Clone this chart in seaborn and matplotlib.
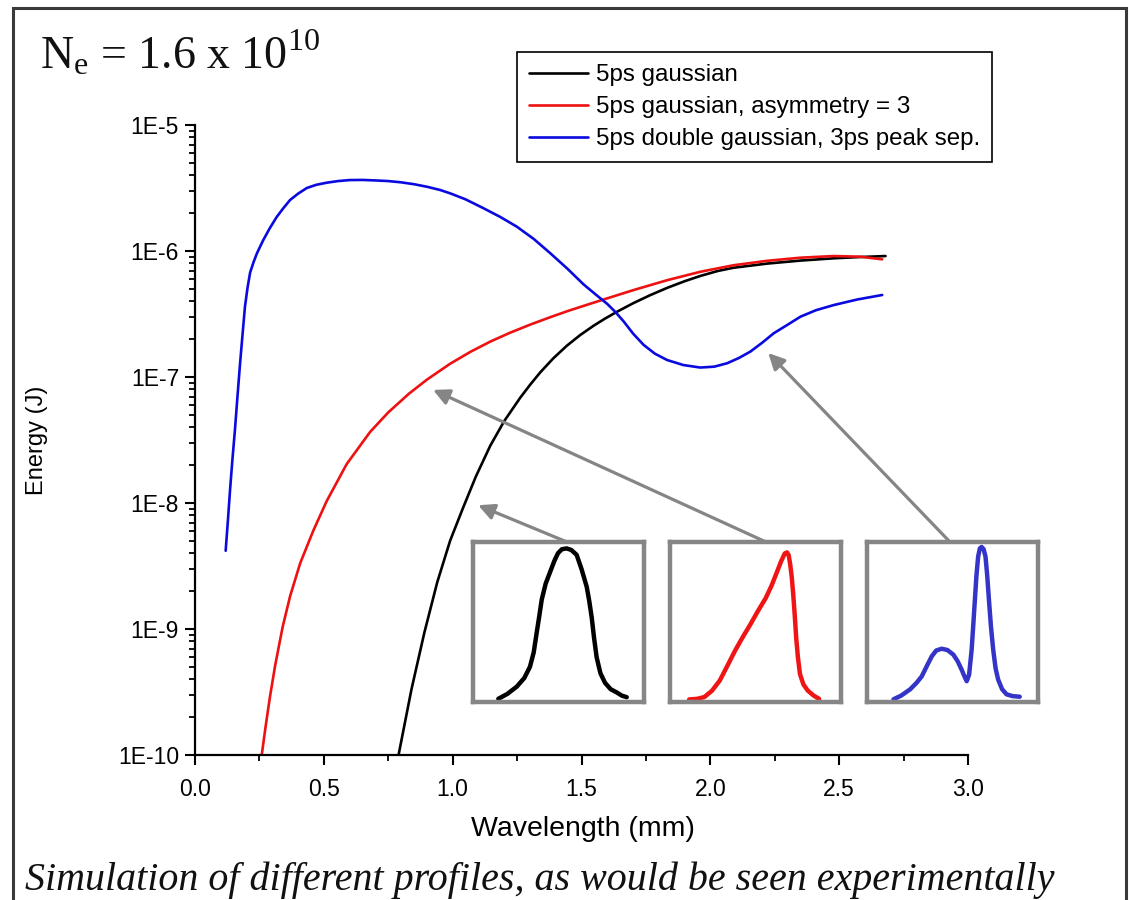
import numpy as np
import pandas as pd
import matplotlib
matplotlib.use("Agg")
import matplotlib.pyplot as plt
import seaborn as sns
from matplotlib.ticker import MultipleLocator, LogLocator, FuncFormatter, NullFormatter
from matplotlib.patches import Rectangle

# ---- spectra: wavelength (mm) vs log10 of radiated energy (J) ----
gauss_wl = [0.79, 0.84, 0.89, 0.94, 0.99, 1.04, 1.09, 1.146, 1.20, 1.262,
            1.30, 1.34, 1.39, 1.443, 1.495, 1.547, 1.59, 1.638, 1.70, 1.767,
            1.832, 1.90, 1.961, 2.03, 2.09, 2.22, 2.35, 2.479, 2.58, 2.68]
gauss_logE = [-10.0, -9.48, -9.03, -8.63, -8.30, -8.04, -7.79, -7.545, -7.35, -7.165,
              -7.063, -6.963, -6.853, -6.752, -6.667, -6.593, -6.538, -6.482, -6.415, -6.35,
              -6.293, -6.24, -6.198, -6.158, -6.133, -6.10, -6.076, -6.058, -6.048, -6.04]

asym_wl = [0.259, 0.275, 0.291, 0.311, 0.34, 0.369, 0.408, 0.459, 0.511, 0.589,
           0.68, 0.75, 0.83, 0.90, 0.99, 1.07, 1.146, 1.22, 1.30, 1.375,
           1.45, 1.573, 1.702, 1.832, 1.961, 2.09, 2.22, 2.35, 2.479, 2.58,
           2.667]
asym_logE = [-10.0, -9.76, -9.537, -9.29, -8.985, -8.74, -8.479, -8.22, -7.985, -7.69,
             -7.435, -7.281, -7.133, -7.021, -6.895, -6.799, -6.719, -6.651, -6.585, -6.528,
             -6.474, -6.393, -6.31, -6.232, -6.165, -6.113, -6.078, -6.053, -6.04, -6.045,
             -6.066]

double_wl = [0.119, 0.128, 0.136, 0.145, 0.155, 0.165, 0.175, 0.185, 0.194, 0.204,
             0.214, 0.227, 0.24, 0.265, 0.29, 0.317, 0.343, 0.369, 0.40, 0.434,
             0.47, 0.511, 0.555, 0.60, 0.65, 0.70, 0.75, 0.80, 0.85, 0.90,
             0.95, 0.99, 1.05, 1.12, 1.185, 1.249, 1.315, 1.379, 1.445, 1.508,
             1.555, 1.60, 1.632, 1.664, 1.70, 1.741, 1.785, 1.832, 1.895, 1.961,
             2.015, 2.065, 2.11, 2.155, 2.20, 2.246, 2.30, 2.35, 2.41, 2.479,
             2.57, 2.667]
double_logE = [-8.379, -8.13, -7.897, -7.66, -7.42, -7.15, -6.89, -6.65, -6.44, -6.29,
               -6.17, -6.09, -6.02, -5.913, -5.82, -5.73, -5.66, -5.595, -5.545, -5.50,
               -5.475, -5.458, -5.445, -5.437, -5.436, -5.44, -5.445, -5.455, -5.47, -5.49,
               -5.515, -5.542, -5.59, -5.661, -5.73, -5.807, -5.905, -6.018, -6.14, -6.265,
               -6.345, -6.42, -6.485, -6.56, -6.655, -6.745, -6.815, -6.865, -6.905, -6.925,
               -6.918, -6.891, -6.85, -6.799, -6.73, -6.653, -6.585, -6.521, -6.47, -6.429,
               -6.385, -6.349]

series_labels = ["5ps gaussian",
                 "5ps gaussian, asymmetry = 3",
                 "5ps double gaussian, 3ps peak sep."]

x_ticks = [0.0, 0.5, 1.0, 1.5, 2.0, 2.5, 3.0]
y_tick_exponents = [-10, -9, -8, -7, -6, -5]

# ---- bunch temporal profiles (normalised time, normalised current) ----
prof_gauss_t = [0.148, 0.20, 0.256, 0.30, 0.333, 0.355, 0.372, 0.388, 0.402, 0.425,
                0.45, 0.475, 0.497, 0.52, 0.548, 0.575, 0.606, 0.635, 0.665, 0.68,
                0.694, 0.708, 0.723, 0.745, 0.772, 0.805, 0.84, 0.87, 0.899]
prof_gauss_i = [0.02, 0.05, 0.096, 0.15, 0.22, 0.31, 0.43, 0.54, 0.64, 0.74,
                0.81, 0.88, 0.93, 0.955, 0.96, 0.95, 0.92, 0.83, 0.72, 0.63,
                0.53, 0.40, 0.28, 0.18, 0.12, 0.08, 0.06, 0.04, 0.03]

prof_asym_t = [0.112, 0.16, 0.201, 0.245, 0.291, 0.335, 0.38, 0.425, 0.47, 0.515,
               0.56, 0.595, 0.626, 0.65, 0.671, 0.684, 0.694, 0.703, 0.712, 0.72,
               0.729, 0.738, 0.748, 0.76, 0.78, 0.805, 0.84, 0.872]
prof_asym_i = [0.016, 0.02, 0.031, 0.07, 0.134, 0.225, 0.32, 0.405, 0.485, 0.57,
               0.65, 0.73, 0.814, 0.88, 0.928, 0.935, 0.918, 0.86, 0.78, 0.68,
               0.55, 0.40, 0.28, 0.175, 0.11, 0.072, 0.04, 0.02]

prof_double_t = [0.155, 0.20, 0.252, 0.29, 0.32, 0.35, 0.379, 0.405, 0.437, 0.47,
                 0.505, 0.53, 0.553, 0.57, 0.583, 0.597, 0.612, 0.622, 0.631, 0.64,
                 0.65, 0.66, 0.67, 0.682, 0.693, 0.703, 0.713, 0.725, 0.738, 0.752,
                 0.767, 0.79, 0.816, 0.85, 0.893]
prof_double_i = [0.017, 0.04, 0.079, 0.12, 0.16, 0.225, 0.286, 0.322, 0.333, 0.325,
                 0.296, 0.255, 0.203, 0.16, 0.13, 0.17, 0.327, 0.49, 0.64, 0.79,
                 0.909, 0.96, 0.969, 0.955, 0.909, 0.79, 0.64, 0.47, 0.327, 0.21,
                 0.14, 0.08, 0.048, 0.037, 0.033]

# ---- styling ----
sns.set_theme(style="white")
plt.rcParams["font.family"] = ["Liberation Sans", "DejaVu Sans"]
plt.rcParams["axes.unicode_minus"] = False
plt.rcParams["lines.solid_capstyle"] = "round"
for key in ("text.color", "axes.labelcolor", "xtick.color", "ytick.color"):
    plt.rcParams[key] = "black"

W, H = 1129, 900
fig = plt.figure(figsize=(W / 100, H / 100), dpi=100)
fig.patch.set_facecolor("white")


def rect(x0, y0, x1, y1):
    """Figure-fraction rectangle from pixel corners (top-left origin)."""
    return [x0 / W, 1 - y1 / H, (x1 - x0) / W, (y1 - y0) / H]


ax = fig.add_axes(rect(195, 125, 968, 755))
ax.set_facecolor("white")

spectra = pd.concat([
    pd.DataFrame({"wl": gauss_wl, "E": 10.0 ** np.array(gauss_logE), "s": series_labels[0]}),
    pd.DataFrame({"wl": asym_wl, "E": 10.0 ** np.array(asym_logE), "s": series_labels[1]}),
    pd.DataFrame({"wl": double_wl, "E": 10.0 ** np.array(double_logE), "s": series_labels[2]}),
], ignore_index=True)

line_colors = ["#000000", "#ee1111", "#0a0ae0"]
for lab, col in zip(series_labels, line_colors):
    sub = spectra[spectra["s"] == lab]
    sns.lineplot(data=sub, x="wl", y="E", ax=ax, color=col, lw=1.9,
                 sort=False, estimator=None, label=lab)

ax.set_yscale("log")
ax.set_xlim(0.0, 3.0)
ax.set_ylim(10.0 ** y_tick_exponents[0], 10.0 ** y_tick_exponents[-1])

ax.set_xticks(x_ticks)
ax.set_xticklabels([f"{v:.1f}" for v in x_ticks])
ax.xaxis.set_minor_locator(MultipleLocator(0.25))
ax.set_yticks([10.0 ** e for e in y_tick_exponents])
ax.yaxis.set_major_formatter(FuncFormatter(lambda v, p: f"1E{int(round(np.log10(v)))}"))
ax.yaxis.set_minor_locator(LogLocator(base=10, subs=np.arange(2, 10), numticks=20))
ax.yaxis.set_minor_formatter(NullFormatter())

for side in ("top", "right"):
    ax.spines[side].set_visible(False)
for side in ("left", "bottom"):
    ax.spines[side].set_color("black")
    ax.spines[side].set_linewidth(1.6)

ax.tick_params(which="major", direction="out", length=7.5, width=1.5, color="black",
               labelsize=16.5, labelcolor="black")
ax.tick_params(which="minor", direction="out", length=4, width=1.3, color="black")
ax.tick_params(axis="x", which="major", pad=9)
ax.tick_params(axis="y", which="major", pad=4)
ax.tick_params(axis="x", which="both", bottom=True, top=False)
ax.tick_params(axis="y", which="both", left=True, right=False)

ax.set_xlabel("Wavelength (mm)", fontsize=20.5, color="black")
ax.set_ylabel("Energy (J)", fontsize=17, color="black")
ax.xaxis.set_label_coords(0.502, -0.097)
ax.yaxis.set_label_coords(-0.19, 0.5)

leg = ax.legend(loc="upper left", bbox_to_anchor=(517 / W, 1 - 52 / H),
                bbox_transform=fig.transFigure, fontsize=17.4, frameon=True,
                fancybox=False, shadow=False, framealpha=1.0, borderaxespad=0,
                handlelength=2.45, handletextpad=0.3, labelspacing=0.42,
                borderpad=0.5)
leg.get_frame().set_edgecolor("black")
leg.get_frame().set_linewidth(1.2)
for h in leg.get_lines():
    h.set_linewidth(1.9)
for txt in leg.get_texts():
    txt.set_color("black")

# ---- arrows from the profile boxes to the spectra ----
arrow_kw = dict(arrowstyle="-|>", color="#858585", lw=2.3, mutation_scale=24,
                shrinkA=0, shrinkB=0)
ax.annotate("", xy=(1.099, 9.6e-9), xycoords="data",
            xytext=(567, H - 542), textcoords="figure pixels", arrowprops=arrow_kw)
ax.annotate("", xy=(0.924, 7.9e-8), xycoords="data",
            xytext=(766, H - 542), textcoords="figure pixels", arrowprops=arrow_kw)
ax.annotate("", xy=(2.225, 1.55e-7), xycoords="data",
            xytext=(950, H - 542), textcoords="figure pixels", arrowprops=arrow_kw)

# ---- profile insets ----
profiles = [
    (prof_gauss_t, prof_gauss_i, "#000000", 473),
    (prof_asym_t, prof_asym_i, "#f01515", 670),
    (prof_double_t, prof_double_i, "#3434c8", 867),
]
for t, i, col, left in profiles:
    iax = fig.add_axes(rect(left, 542, left + 171, 702))
    iax.set_facecolor("white")
    sns.lineplot(x=t, y=i, ax=iax, color=col, lw=3.2, sort=False, estimator=None)
    iax.set_xlim(0, 1)
    iax.set_ylim(0, 1)
    iax.set_xticks([])
    iax.set_yticks([])
    iax.set_xlabel("")
    iax.set_ylabel("")
    for sp in iax.spines.values():
        sp.set_visible(True)
        sp.set_color("#868686")
        sp.set_linewidth(3.2)

# ---- headline and caption ----
serif = ["Liberation Serif", "DejaVu Serif"]
fig.text(40 / W, 1 - 69 / H, r"$\mathregular{N_e}$ = 1.6 x 10$^{\mathregular{10}}$",
         fontsize=33, family=serif, color="#111111", ha="left", va="baseline")
fig.text(25 / W, 1 - 890 / H,
         "Simulation of different profiles, as would be seen experimentally",
         fontsize=28.8, family=serif, style="italic", color="#111111",
         ha="left", va="baseline")

# outer frame
fig.patches.append(Rectangle((13 / W, -0.05), (1126 - 13) / W, 1 - 8 / H + 0.05,
                             transform=fig.transFigure, fill=False,
                             edgecolor="#3a3a3a", lw=2.2, zorder=10))

fig.savefig("out.png", dpi=100, facecolor="white")
